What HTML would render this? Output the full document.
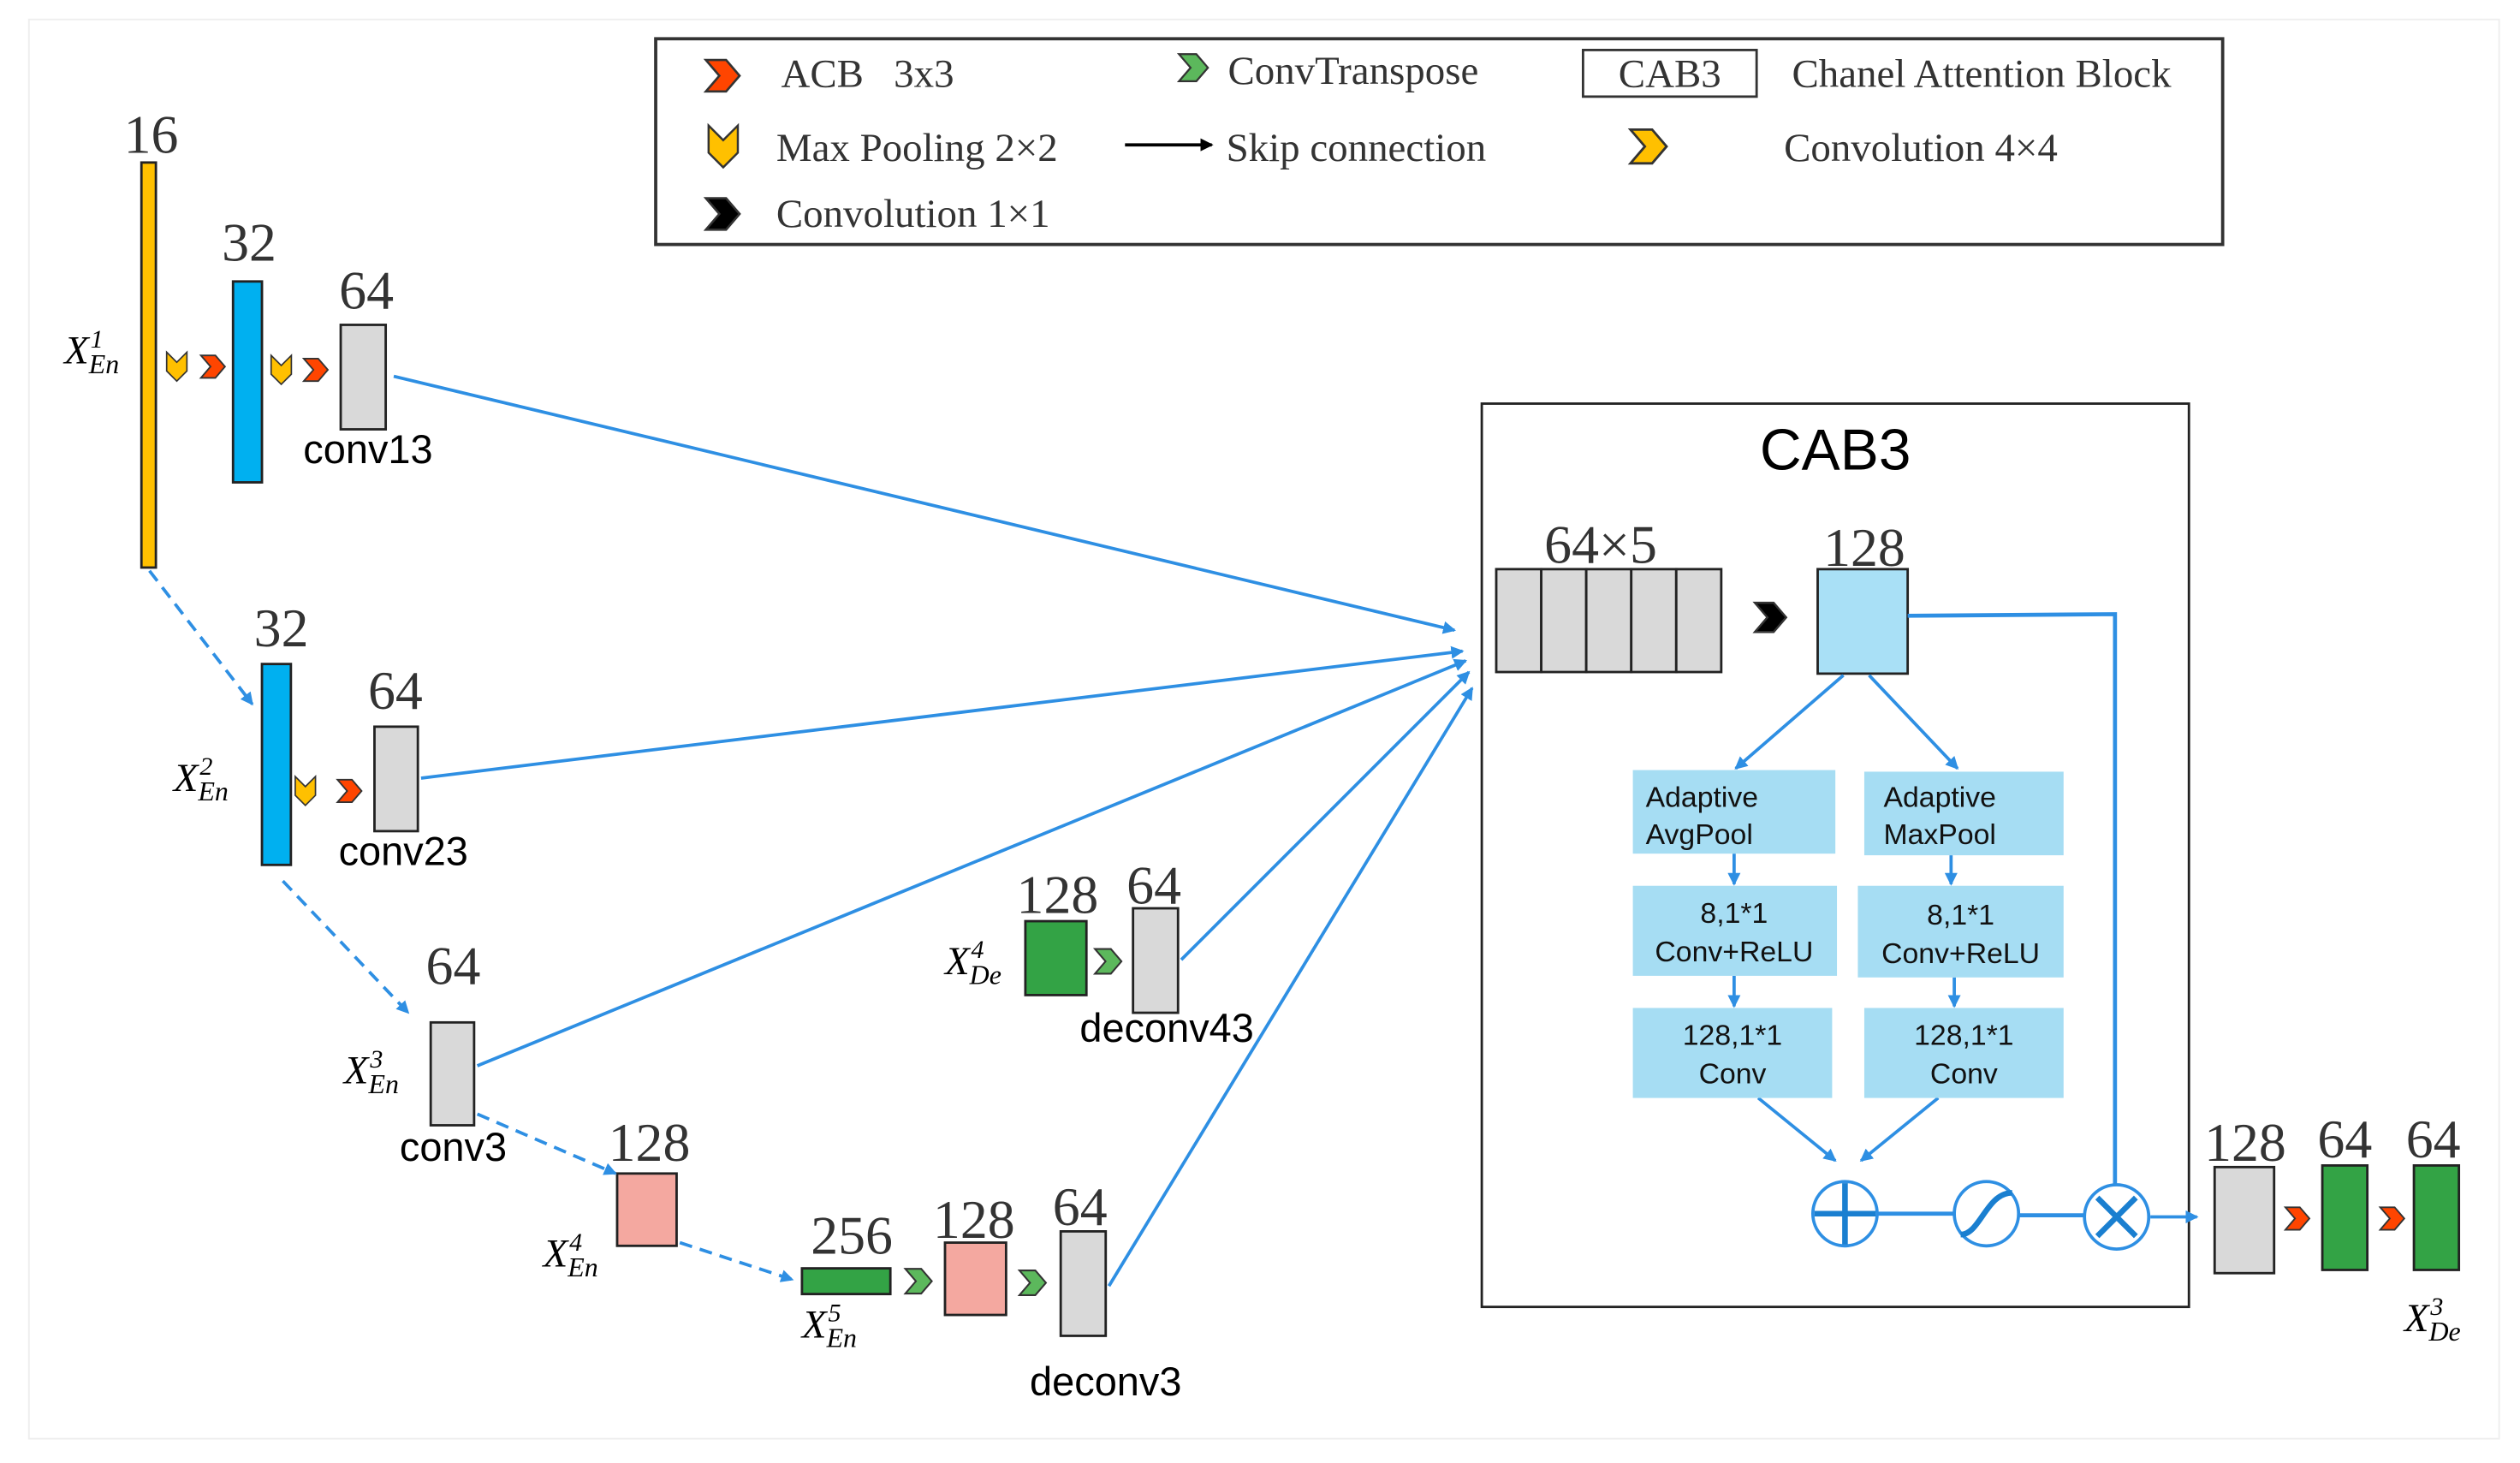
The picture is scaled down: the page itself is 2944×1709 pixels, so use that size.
<!DOCTYPE html>
<html><head><meta charset="utf-8"><style>html,body{margin:0;padding:0;background:#fff}svg{display:block}</style></head>
<body>
<svg width="2944" height="1709" viewBox="0 0 1568 910" xmlns="http://www.w3.org/2000/svg">
<defs>
<marker id="a" markerWidth="8" markerHeight="8" refX="7" refY="4" orient="auto" markerUnits="userSpaceOnUse"><path d="M0,0 L8,4 L0,8 Z" fill="#2e8fe3"/></marker>
<marker id="k" markerWidth="8" markerHeight="8" refX="7" refY="4" orient="auto" markerUnits="userSpaceOnUse"><path d="M0,0 L8,4 L0,8 Z" fill="#000"/></marker>
<g id="chev"><path d="M-7,-7 L2,-7 L8,0 L2,7 L-7,7 L-1,0 Z" stroke="#333" stroke-width="1"/></g>
<g id="vee"><path d="M-7,-10 L0,-3 L7,-10 L7,3 L0,10 L-7,3 Z" fill="#ffc000" stroke="#333" stroke-width="1"/></g>
</defs>
<rect x="18" y="12" width="1537" height="883" fill="none" stroke="#eee" stroke-width="1"/>
<!-- legend -->
<rect x="408" y="24" width="975" height="128" fill="#fff" stroke="#333" stroke-width="2"/>
<g font-family="Liberation Serif, serif" font-size="25" fill="#333">
<use href="#chev" fill="#ff4500" transform="translate(449,47) scale(1.4)"/>
<text x="486" y="54" xml:space="preserve" style="white-space:pre">ACB   3x3</text>
<use href="#chev" fill="#5cb85c" transform="translate(742,42) scale(1.2)"/>
<text x="764" y="52">ConvTranspose</text>
<rect x="985" y="31" width="108" height="29" fill="none" stroke="#333" stroke-width="1.5"/>
<text x="1039" y="54" text-anchor="middle">CAB3</text>
<text x="1115" y="54">Chanel Attention Block</text>
<use href="#vee" transform="translate(450,91) scale(1.3)"/>
<text x="483" y="100">Max Pooling 2×2</text>
<line x1="700" y1="90" x2="754" y2="90" stroke="#000" stroke-width="2" marker-end="url(#k)"/>
<text x="763" y="100">Skip connection</text>
<use href="#chev" fill="#ffc000" transform="translate(1025,91) scale(1.5)"/>
<text x="1110" y="100">Convolution 4×4</text>
<use href="#chev" fill="#000" transform="translate(449,133) scale(1.4)"/>
<text x="483" y="141">Convolution 1×1</text>
</g>
<!-- numbers -->
<g font-family="Liberation Serif, serif" font-size="34" fill="#333" text-anchor="middle">
<text x="94" y="95">16</text><text x="155" y="162">32</text><text x="228" y="192">64</text>
<text x="175" y="402">32</text><text x="246" y="441">64</text><text x="282" y="612">64</text>
<text x="404" y="722">128</text><text x="530" y="780">256</text><text x="606" y="770">128</text>
<text x="672" y="762">64</text><text x="658" y="568">128</text><text x="718" y="562">64</text>
<text x="996" y="350">64×5</text><text x="1160" y="352">128</text>
<text x="1397" y="722">128</text><text x="1459" y="720">64</text><text x="1514" y="720">64</text>
</g>
<g font-family="Liberation Sans, sans-serif" font-size="25" fill="#000" text-anchor="middle">
<text x="229" y="288">conv13</text><text x="251" y="538">conv23</text><text x="282" y="722">conv3</text>
<text x="688" y="868">deconv3</text><text x="726" y="648">deconv43</text>
<text x="1142" y="292" font-size="36">CAB3</text>
</g>
<!-- X labels -->
<g font-family="Liberation Serif, serif" font-style="italic" font-size="25" fill="#000">
<text x="40" y="226">X<tspan font-size="16" dx="1" dy="-10">1</tspan><tspan font-size="17" dx="-9" dy="16">En</tspan></text>
<text x="108" y="492">X<tspan font-size="16" dx="1" dy="-10">2</tspan><tspan font-size="17" dx="-9" dy="16">En</tspan></text>
<text x="214" y="674">X<tspan font-size="16" dx="1" dy="-10">3</tspan><tspan font-size="17" dx="-9" dy="16">En</tspan></text>
<text x="338" y="788">X<tspan font-size="16" dx="1" dy="-10">4</tspan><tspan font-size="17" dx="-9" dy="16">En</tspan></text>
<text x="499" y="832">X<tspan font-size="16" dx="1" dy="-10">5</tspan><tspan font-size="17" dx="-9" dy="16">En</tspan></text>
<text x="588" y="606">X<tspan font-size="16" dx="1" dy="-10">4</tspan><tspan font-size="17" dx="-9" dy="16">De</tspan></text>
<text x="1496" y="828">X<tspan font-size="16" dx="1" dy="-10">3</tspan><tspan font-size="17" dx="-9" dy="16">De</tspan></text>
</g>
<!-- blocks -->
<g stroke="#222" stroke-width="1.5">
<rect x="88" y="101" width="9" height="252" fill="#ffc000"/>
<rect x="145" y="175" width="18" height="125" fill="#00b0f0"/>
<rect x="212" y="202" width="28" height="65" fill="#d9d9d9"/>
<rect x="163" y="413" width="18" height="125" fill="#00b0f0"/>
<rect x="233" y="452" width="27" height="65" fill="#d9d9d9"/>
<rect x="268" y="636" width="27" height="64" fill="#d9d9d9"/>
<rect x="384" y="730" width="37" height="45" fill="#f4a8a0"/>
<rect x="499" y="789" width="55" height="16" fill="#33a345"/>
<rect x="588" y="773" width="38" height="45" fill="#f4a8a0"/>
<rect x="660" y="766" width="28" height="65" fill="#d9d9d9"/>
<rect x="638" y="573" width="38" height="46" fill="#33a345"/>
<rect x="705" y="565" width="28" height="65" fill="#d9d9d9"/>
<rect x="931" y="354" width="28" height="64" fill="#d9d9d9"/>
<rect x="959" y="354" width="28" height="64" fill="#d9d9d9"/>
<rect x="987" y="354" width="28" height="64" fill="#d9d9d9"/>
<rect x="1015" y="354" width="28" height="64" fill="#d9d9d9"/>
<rect x="1043" y="354" width="28" height="64" fill="#d9d9d9"/>
<rect x="1131" y="354" width="56" height="65" fill="#a9e0f6"/>
<rect x="1378" y="726" width="37" height="66" fill="#d9d9d9"/>
<rect x="1445" y="725" width="28" height="65" fill="#33a345"/>
<rect x="1502" y="725" width="28" height="65" fill="#33a345"/>
</g>
<rect x="922" y="251" width="440" height="562" fill="none" stroke="#222" stroke-width="1.5"/>
<!-- small icons -->
<use href="#vee" transform="translate(110,228) scale(0.9)"/>
<use href="#chev" fill="#ff4500" transform="translate(132,228) scale(1)"/>
<use href="#vee" transform="translate(175,230) scale(0.9)"/>
<use href="#chev" fill="#ff4500" transform="translate(196,230) scale(1)"/>
<use href="#vee" transform="translate(190,492) scale(0.9)"/>
<use href="#chev" fill="#ff4500" transform="translate(217,492) scale(1)"/>
<use href="#chev" fill="#5cb85c" transform="translate(571,797) scale(1.1)"/>
<use href="#chev" fill="#5cb85c" transform="translate(642,798) scale(1.1)"/>
<use href="#chev" fill="#5cb85c" transform="translate(689,598) scale(1.1)"/>
<use href="#chev" fill="#000" transform="translate(1101,384) scale(1.3)"/>
<use href="#chev" fill="#ff4500" transform="translate(1429,758) scale(1)"/>
<use href="#chev" fill="#ff4500" transform="translate(1488,758) scale(1)"/>
<!-- connectors -->
<g stroke="#2e8fe3" stroke-width="2" fill="none" marker-end="url(#a)">
<line x1="245" y1="234" x2="905" y2="392"/>
<line x1="262" y1="484" x2="910" y2="405"/>
<line x1="297" y1="663" x2="912" y2="411"/>
<line x1="735" y1="597" x2="914" y2="418"/>
<line x1="690" y1="800" x2="916" y2="428"/>
<line x1="93" y1="355" x2="157" y2="438" stroke-dasharray="8,5"/>
<line x1="176" y1="548" x2="254" y2="630" stroke-dasharray="8,5"/>
<line x1="297" y1="693" x2="383" y2="730" stroke-dasharray="8,5"/>
<line x1="423" y1="773" x2="493" y2="796" stroke-dasharray="8,5"/>
<line x1="1147" y1="420" x2="1080" y2="478"/>
<line x1="1163" y1="420" x2="1218" y2="478"/>
<line x1="1079" y1="531" x2="1079" y2="550"/>
<line x1="1214" y1="532" x2="1214" y2="550"/>
<line x1="1079" y1="607" x2="1079" y2="626"/>
<line x1="1216" y1="608" x2="1216" y2="626"/>
<line x1="1094" y1="683" x2="1142" y2="722"/>
<line x1="1206" y1="683" x2="1158" y2="722"/>
<line x1="1338" y1="757" x2="1367" y2="757"/>
</g>
<g stroke="#2e8fe3" stroke-width="2.5" fill="none">
<polyline points="1187,383 1316,382 1316,737"/>
<line x1="1168" y1="755" x2="1216" y2="755"/>
<line x1="1256" y1="756" x2="1297" y2="756"/>
</g>
<!-- pool boxes -->
<g fill="#a6ddf3">
<rect x="1016" y="479" width="126" height="52"/><rect x="1160" y="480" width="124" height="52"/>
<rect x="1016" y="551" width="127" height="56"/><rect x="1156" y="551" width="128" height="57"/>
<rect x="1016" y="627" width="124" height="56"/><rect x="1160" y="627" width="124" height="56"/>
</g>
<g font-family="Liberation Sans, sans-serif" font-size="18" fill="#111">
<text x="1024" y="502">Adaptive</text><text x="1024" y="525">AvgPool</text>
<text x="1172" y="502">Adaptive</text><text x="1172" y="525">MaxPool</text>
<g text-anchor="middle">
<text x="1079" y="574">8,1*1</text><text x="1079" y="598">Conv+ReLU</text>
<text x="1220" y="575">8,1*1</text><text x="1220" y="599">Conv+ReLU</text>
<text x="1078" y="650">128,1*1</text><text x="1078" y="674">Conv</text>
<text x="1222" y="650">128,1*1</text><text x="1222" y="674">Conv</text>
</g></g>
<!-- op circles -->
<g fill="#fff" stroke="#2e8fe3" stroke-width="2">
<circle cx="1148" cy="755" r="20"/><circle cx="1236" cy="755" r="20"/><circle cx="1317" cy="757" r="20"/>
</g>
<g stroke="#1a7fd0" stroke-width="3.5" fill="none">
<line x1="1129" y1="755" x2="1167" y2="755"/><line x1="1148" y1="736" x2="1148" y2="774"/>
<path d="M1220,768 C1232,768 1236,742 1252,742"/>
<line x1="1305" y1="745" x2="1329" y2="769"/><line x1="1329" y1="745" x2="1305" y2="769"/>
</g>
</svg>
</body></html>
